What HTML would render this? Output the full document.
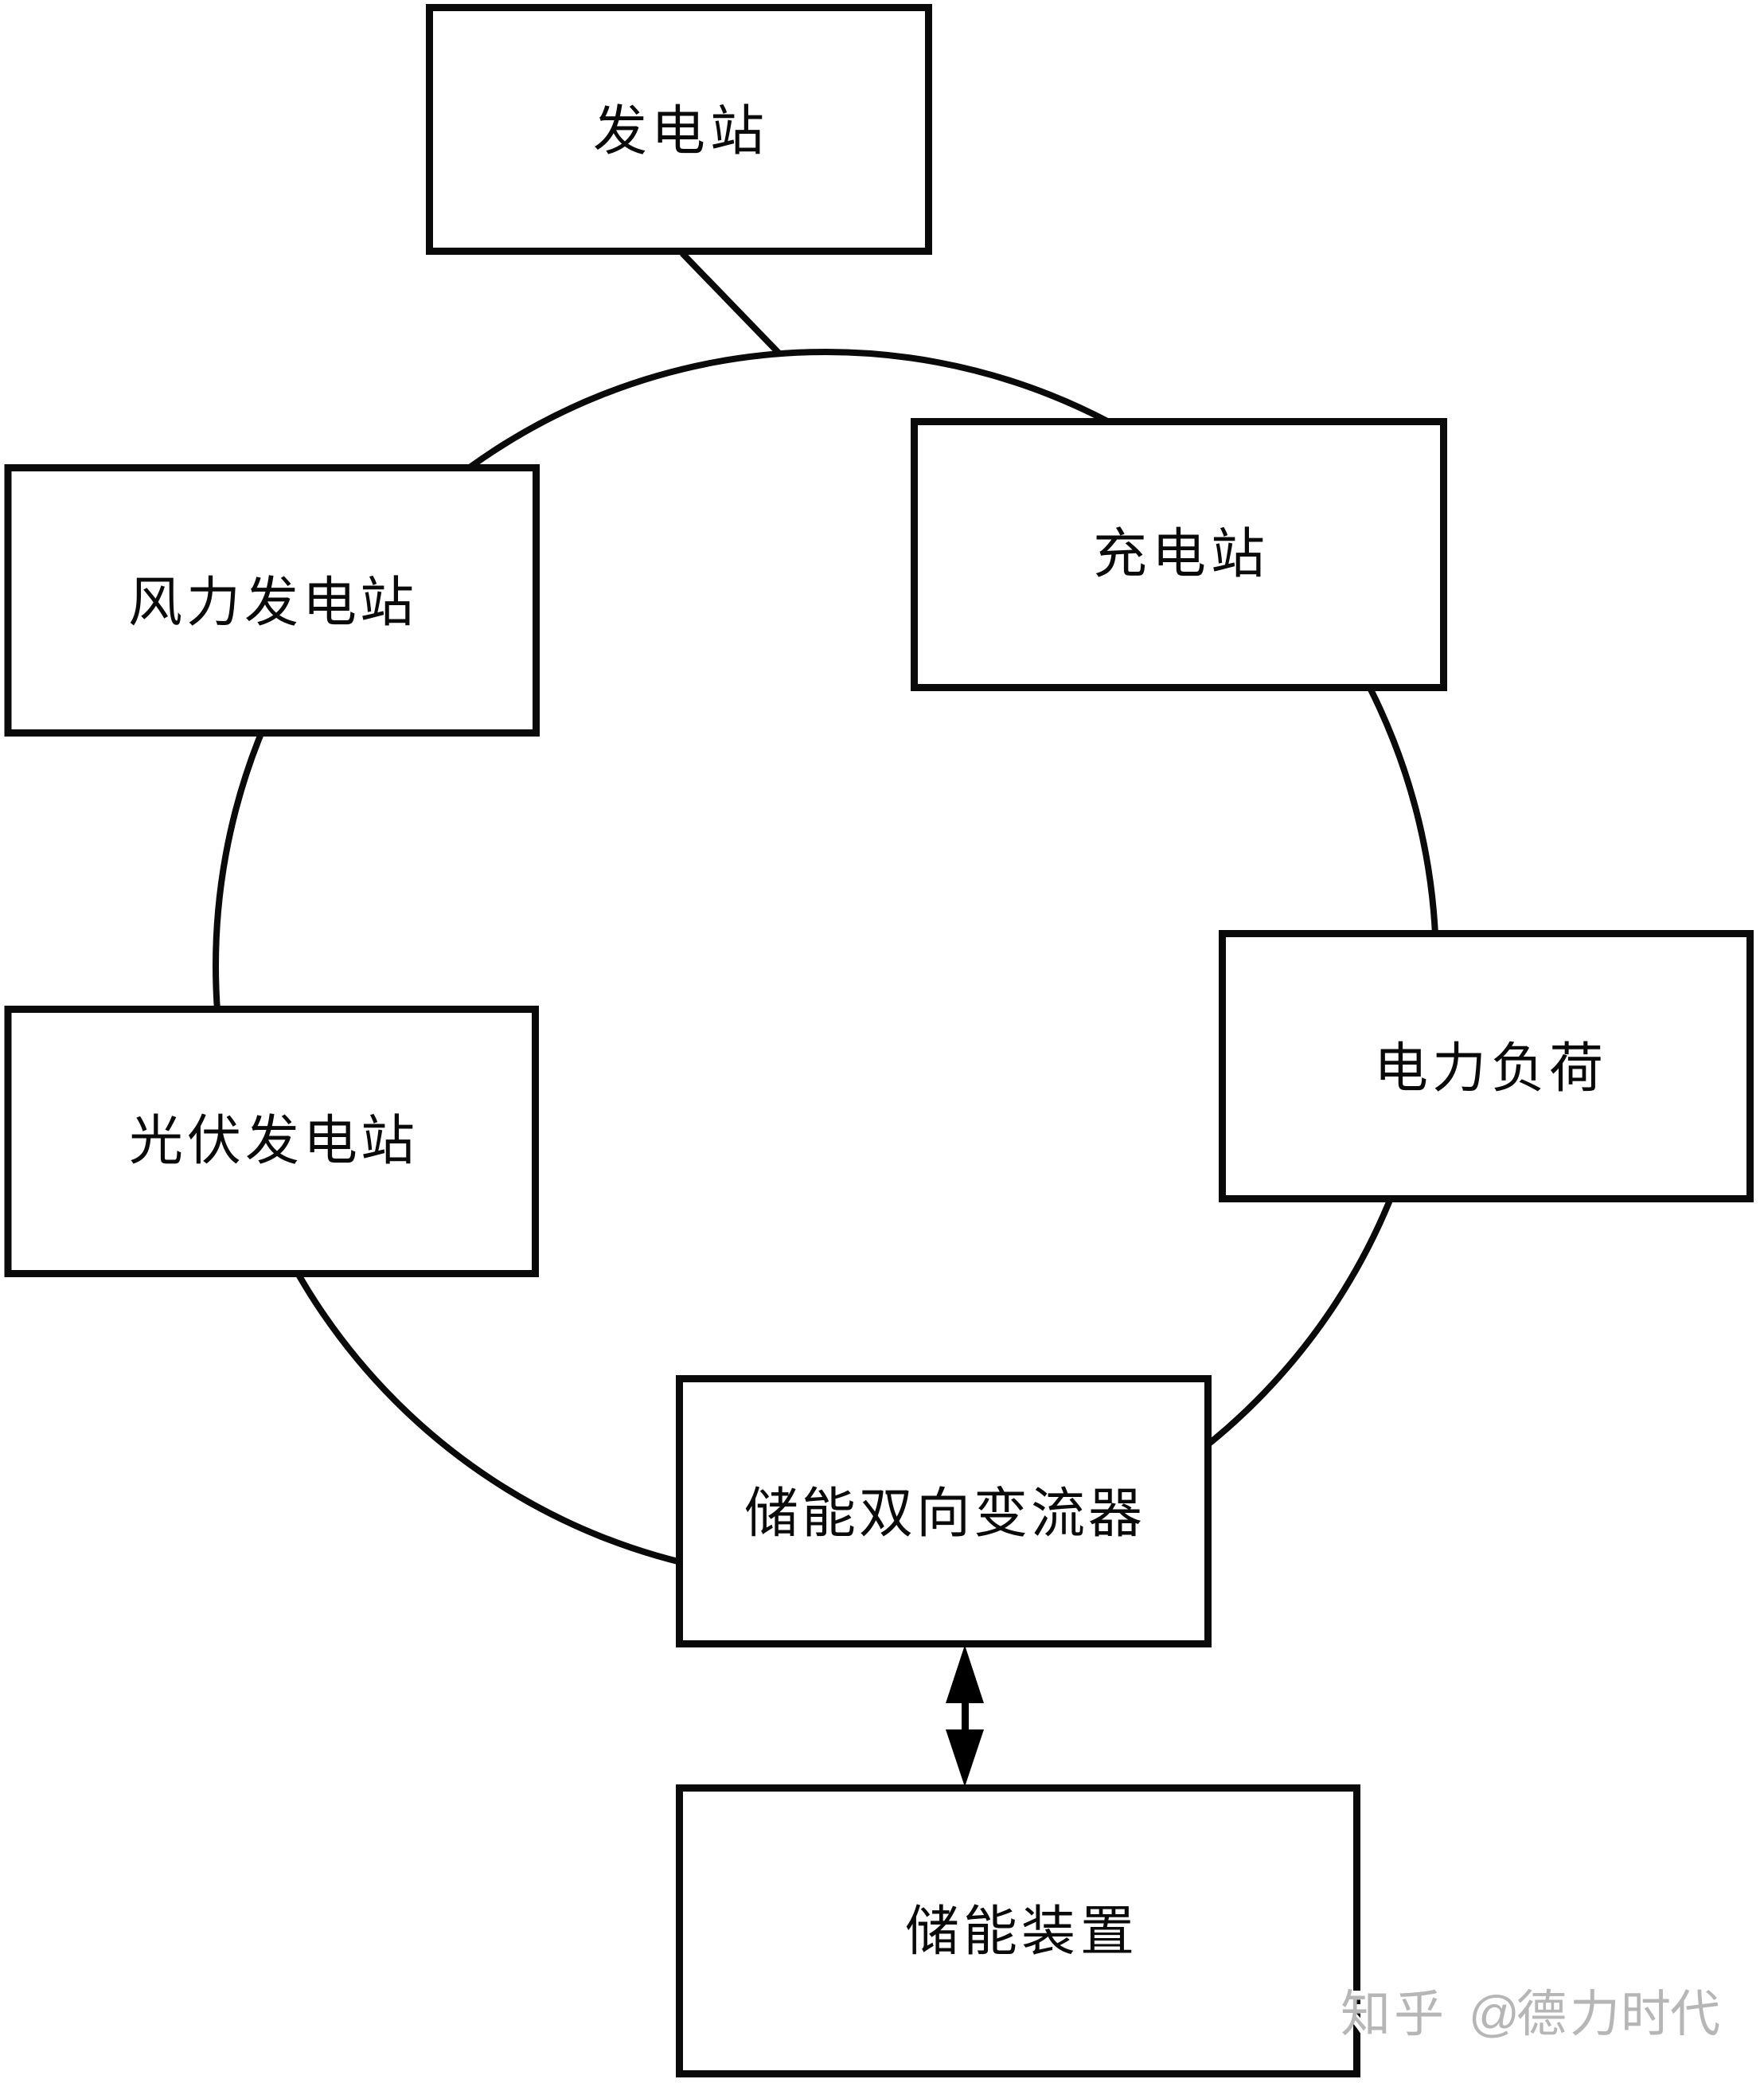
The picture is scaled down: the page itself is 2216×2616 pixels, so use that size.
<!DOCTYPE html>
<html lang="zh">
<head>
<meta charset="utf-8">
<title>储能系统示意图</title>
<style>
html,body{margin:0;padding:0;background:#fff;width:2216px;height:2616px;overflow:hidden}
svg{display:block}
.l{font-family:"Liberation Sans","Noto Sans CJK SC",sans-serif;font-size:68px;fill:#0a0a0a;font-weight:400}
.w{font-family:"Liberation Sans","Noto Sans CJK SC",sans-serif;font-size:63px;font-weight:400}
</style>
</head>
<body>
<svg xmlns="http://www.w3.org/2000/svg" width="2216" height="2616" viewBox="0 0 2216 2616">
<rect width="2216" height="2616" fill="#fff"/>
<ellipse cx="1037.5" cy="1213" rx="766.5" ry="771" fill="none" stroke="#0a0a0a" stroke-width="8"/>
<line x1="857" y1="318" x2="978" y2="443" stroke="#0a0a0a" stroke-width="8"/>
<g fill="#fff" stroke="#0a0a0a" stroke-width="9" stroke-linejoin="miter">
<rect x="539.5" y="9.5" width="627" height="306"/>
<rect x="10" y="587.5" width="663.5" height="333"/>
<rect x="10" y="1267.5" width="662.5" height="332"/>
<rect x="1148.5" y="529.5" width="665" height="334"/>
<rect x="1535.5" y="1172.5" width="663" height="333"/>
<rect x="853.5" y="1731.5" width="664" height="333"/>
<rect x="853.5" y="2245.5" width="851" height="359"/>
</g>
<g fill="#000">
<polygon points="1212,2066 1188,2139 1236,2139"/>
<rect x="1208" y="2137" width="9" height="37"/>
<polygon points="1188,2172 1236,2172 1212,2244"/>
</g>
<text class="l" x="745 818 892" y="188">发电站</text>
<text class="l" x="161 234 307 380 452" y="780">风力发电站</text>
<text class="l" x="162 235 308 381 453" y="1456">光伏发电站</text>
<text class="l" x="1373 1447 1521" y="719">充电站</text>
<text class="l" x="1726 1799 1873 1946" y="1365">电力负荷</text>
<text class="l" x="935 1007 1079 1151 1223 1295 1367" y="1924">储能双向变流器</text>
<text class="l" x="1137 1210 1283 1357" y="2449">储能装置</text>
<text class="w" x="1680 1747 1841 1901 1968 2032 2094" y="2548" fill="#fff" stroke="#fff" stroke-width="7">知乎@德力时代</text>
<text class="w" x="1684 1751 1845 1905 1972 2036 2098" y="2551" fill="#b6b6b6">知乎@德力时代</text>
</svg>
</body>
</html>
